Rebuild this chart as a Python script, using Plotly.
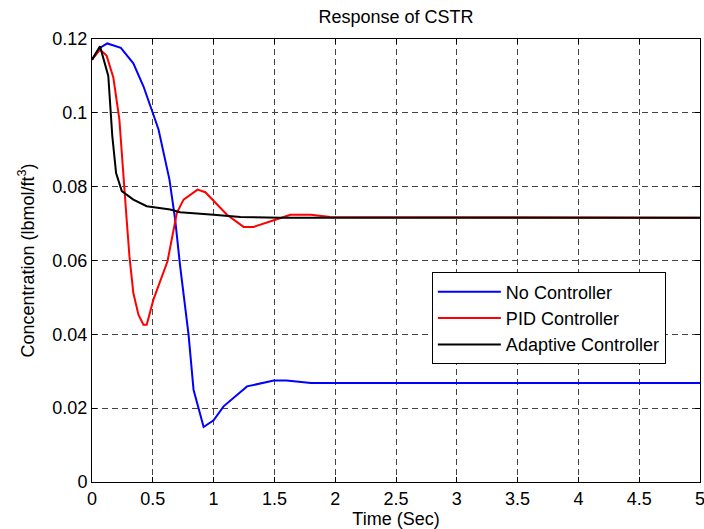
import plotly.graph_objects as go

# No Controller
t_none = [0, 0.06, 0.126, 0.237, 0.34, 0.423, 0.49, 0.547, 0.637, 0.684, 0.725,
          0.794, 0.835, 0.918, 1.0, 1.082, 1.275, 1.495, 1.6, 1.8, 5.0]
c_none = [0.1144, 0.1175, 0.1188, 0.1176, 0.1134, 0.1072, 0.1009, 0.0955, 0.0819,
          0.0711, 0.0584, 0.0399, 0.025, 0.0149, 0.0167, 0.0205, 0.0259, 0.0275,
          0.0275, 0.0268, 0.0268]

# PID Controller
t_pid = [0, 0.066, 0.12, 0.176, 0.225, 0.258, 0.285, 0.308, 0.34, 0.382, 0.423,
         0.45, 0.505, 0.621, 0.698, 0.753, 0.868, 0.932, 1.0, 1.11, 1.247, 1.33,
         1.495, 1.632, 1.8, 1.96, 5.0]
c_pid = [0.1144, 0.1171, 0.1155, 0.1095, 0.0982, 0.0846, 0.0711, 0.0611, 0.0512,
         0.0453, 0.0426, 0.0426, 0.0494, 0.0598, 0.0729, 0.0765, 0.0792, 0.0785,
         0.0762, 0.0724, 0.0691, 0.0691, 0.0709, 0.0724, 0.0724, 0.0718, 0.0716]

# Adaptive Controller
t_adp = [0, 0.066, 0.134, 0.167, 0.198, 0.245, 0.34, 0.45, 0.643, 0.725, 1.0,
         1.22, 1.55, 5.0]
c_adp = [0.1144, 0.118, 0.110, 0.0937, 0.0837, 0.0788, 0.0765, 0.0747, 0.0738,
         0.0731, 0.0724, 0.0718, 0.0716, 0.0716]

x_ticks = [0, 0.5, 1, 1.5, 2, 2.5, 3, 3.5, 4, 4.5, 5]
y_ticks = [0, 0.02, 0.04, 0.06, 0.08, 0.1, 0.12]
y_labels = ["0", "0.02", "0.04", "0.06", "0.08", "0.1", "0.12"]

series = [
    ("No Controller", t_none, c_none, "#0000ff"),
    ("PID Controller", t_pid, c_pid, "#ff0000"),
    ("Adaptive Controller", t_adp, c_adp, "#000000"),
]

fig = go.Figure()
for name, t, c, col in series:
    fig.add_trace(go.Scatter(x=t, y=c, mode="lines", name=name,
                             line=dict(color=col, width=2)))

axis_style = dict(showline=True, linecolor="black", linewidth=1, mirror="ticks",
                  ticks="inside", ticklen=5, tickcolor="black",
                  showgrid=True, gridcolor="#444444", gridwidth=1, griddash="6px,4px",
                  zeroline=False, tickfont=dict(size=18, color="black"),
                  ticklabeloverflow="allow", automargin=False)

fig.update_layout(
    width=704, height=529,
    margin=dict(l=92, r=4, t=39, b=47),
    paper_bgcolor="white", plot_bgcolor="white",
    font=dict(family="Liberation Sans, Arial, sans-serif", color="black", size=18),
    title=dict(text="Response of CSTR", x=0.5625, xanchor="center", y=0.969,
               yanchor="middle", font=dict(size=18)),
    xaxis=dict(range=[0, 5], tickvals=x_ticks, ticktext=[str(v) for v in x_ticks],
               title=dict(text="Time (Sec)", font=dict(size=18), standoff=2), **axis_style),
    yaxis=dict(range=[0, 0.12], tickvals=y_ticks, ticktext=y_labels,
               title=dict(text="Concentration (lbmol/ft<sup>3</sup>)", font=dict(size=18),
                          standoff=13), **axis_style),
    legend=dict(x=0.559, y=0.473, xanchor="left", yanchor="top",
                bordercolor="black", borderwidth=1, bgcolor="white",
                font=dict(size=18), itemwidth=63),
    showlegend=True,
)

fig.write_html("out.html", config={"displayModeBar": False},
               post_script="document.body.style.margin='0';")
